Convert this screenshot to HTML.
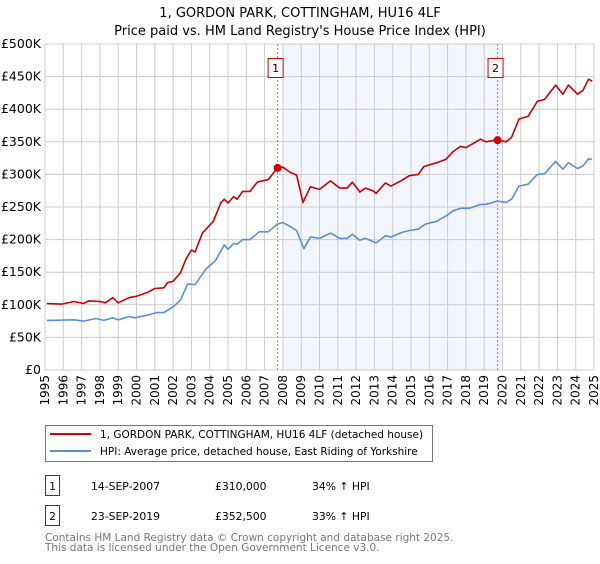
<!DOCTYPE html>
<html><head><meta charset="utf-8"><style>
body{margin:0;background:#fff;font-family:"DejaVu Sans","Liberation Sans",sans-serif;}
svg text{font-family:"DejaVu Sans","Liberation Sans",sans-serif;}
</style></head><body>
<svg id="chart" width="600" height="560" xmlns="http://www.w3.org/2000/svg">
<text x="300" y="17" text-anchor="middle" font-size="13">1, GORDON PARK, COTTINGHAM, HU16 4LF</text>
<text x="300" y="35" text-anchor="middle" font-size="13">Price paid vs. HM Land Registry's House Price Index (HPI)</text>
<g id="plot"></g>
<g>
<rect x="45.5" y="425.5" width="387" height="36" fill="#fff" stroke="#777"/>
<line x1="50" y1="434" x2="91" y2="434" stroke="#cc0000" stroke-width="2"/>
<text x="100" y="438" font-size="10.5">1, GORDON PARK, COTTINGHAM, HU16 4LF (detached house)</text>
<line x1="50" y1="451" x2="91" y2="451" stroke="#5b8fd4" stroke-width="2"/>
<text x="100" y="455" font-size="10.5">HPI: Average price, detached house, East Riding of Yorkshire</text>
</g>
<g font-size="10.8">
<rect x="45.5" y="475.5" width="14" height="20" fill="#fff" stroke="#cc0000"/>
<text x="52.5" y="490" text-anchor="middle">1</text>
<text x="91" y="490">14-SEP-2007</text><text x="215" y="490">£310,000</text><text x="312" y="490">34% ↑ HPI</text>
<rect x="45.5" y="505.5" width="14" height="20" fill="#fff" stroke="#cc0000"/>
<text x="52.5" y="520" text-anchor="middle">2</text>
<text x="91" y="520">23-SEP-2019</text><text x="215" y="520">£352,500</text><text x="312" y="520">33% ↑ HPI</text>
</g>
<g font-size="10.5" fill="#777">
<text x="45" y="541">Contains HM Land Registry data © Crown copyright and database right 2025.</text>
<text x="45" y="551">This data is licensed under the Open Government Licence v3.0.</text>
</g>
</svg>
<script>
const redYears=[1995.1,1995.9,1996.6,1997.1,1997.4,1998.0,1998.3,1998.7,1999.0,1999.6,2000.0,2000.6,2001.0,2001.5,2001.7,2002.0,2002.4,2002.7,2003.0,2003.2,2003.6,2004.2,2004.6,2004.8,2005.0,2005.3,2005.5,2005.8,2006.2,2006.6,2007.0,2007.2,2007.7,2008.0,2008.4,2008.75,2009.1,2009.5,2010.0,2010.6,2011.1,2011.5,2011.8,2012.2,2012.5,2012.9,2013.1,2013.6,2013.9,2014.5,2014.9,2015.4,2015.7,2016.4,2016.9,2017.3,2017.7,2018.0,2018.8,2019.1,2019.7,2020.2,2020.5,2020.9,2021.4,2021.9,2022.3,2022.9,2023.3,2023.6,2024.1,2024.4,2024.7,2024.9];
const redValues=[102,101,105,102,106,105,103,111,103,111,113,119,125,126,134,136,149,170,184,181,210,228,256,262,256,266,262,274,274,288,291,292,310,311,303,299,257,281,277,290,279,279,288,273,279,275,271,287,282,291,298,300,312,318,323,335,343,341,354,350,353,350,357,385,389,412,415,437,423,437,423,429,446,443];
const blueYears=[1995.1,1996.6,1997.1,1997.8,1998.2,1998.7,1999.0,1999.6,1999.9,2000.6,2001.1,2001.5,2002.0,2002.4,2002.8,2003.2,2003.8,2004.3,2004.6,2004.8,2005.0,2005.3,2005.5,2005.8,2006.2,2006.7,2007.0,2007.2,2007.7,2008.0,2008.4,2008.75,2009.15,2009.5,2010.0,2010.6,2011.1,2011.5,2011.8,2012.2,2012.5,2013.1,2013.6,2013.9,2014.5,2014.9,2015.4,2015.8,2016.4,2016.9,2017.3,2017.7,2018.2,2018.8,2019.1,2019.7,2020.2,2020.5,2020.9,2021.4,2021.9,2022.3,2022.9,2023.3,2023.6,2024.1,2024.4,2024.7,2024.9];
const blueValues=[76,77,75,79,76,80,77,82,80,84,88,88,97,107,132,131,155,167,182,192,185,194,193,200,200,212,212,212,224,226,220,214,186,204,202,210,202,202,208,199,202,195,206,204,211,214,216,224,228,236,244,248,248,254,254,259,257,262,282,285,300,301,320,308,318,309,313,324,323];
const sales=[{label:'1',year:2007.71,value:310},{label:'2',year:2019.73,value:352.5}];
const yTicks=[0,50,100,150,200,250,300,350,400,450,500];
const yTickLabels=['£0','£50K','£100K','£150K','£200K','£250K','£300K','£350K','£400K','£450K','£500K'];
const xTicks=[1995,1996,1997,1998,1999,2000,2001,2002,2003,2004,2005,2006,2007,2008,2009,2010,2011,2012,2013,2014,2015,2016,2017,2018,2019,2020,2021,2022,2023,2024,2025];

const L=45,R=594,T=44,B=370;
const xs=y=>L+(y-1995)/30*(R-L);
const ys=v=>B-v/500*(B-T);
const NS='http://www.w3.org/2000/svg';
const plot=document.getElementById('plot');
function mk(tag,attrs,parent){const e=document.createElementNS(NS,tag);for(const k in attrs)e.setAttribute(k,attrs[k]);(parent||plot).appendChild(e);return e;}
const shade=mk('rect',{x:xs(sales[0].year)+5,y:T,width:xs(sales[1].year)-xs(sales[0].year),height:B-T,fill:'#f3f6fd'});


yTicks.forEach((v,i)=>{
 const g=mk('line',{x1:L,x2:R,y1:ys(v),y2:ys(v),stroke:'#cccccc'});
 
 
 const t=mk('text',{x:L-4,y:ys(v)+4,'text-anchor':'end','font-size':'12.5'});
 t.textContent=yTickLabels[i];
 
 
});
xTicks.forEach(y=>{
 const g=mk('line',{x1:xs(y),x2:xs(y),y1:T,y2:B,stroke:'#cccccc'});
 
 
 const t=mk('text',{x:0,y:0,'text-anchor':'end','font-size':'12',transform:`translate(${xs(y)+4},${B+5}) rotate(-90)`});
 t.textContent=y;
 
 
});
sales.forEach(s=>{
 const d=mk('line',{x1:xs(s.year),x2:xs(s.year),y1:T,y2:B,stroke:'#ee6666','stroke-dasharray':'2,2'});
 
 
});
function line(xa,va,color,name){
 const p=mk('polyline',{points:xa.map((y,i)=>xs(y).toFixed(1)+','+ys(va[i]).toFixed(1)).join(' '),fill:'none',stroke:color,'stroke-width':'1.6','stroke-linejoin':'round'});
 
 
}
line(blueYears,blueValues,'#5b8fd4','hpi-line');
line(redYears,redValues,'#cc0000','price-paid-line');
sales.forEach(s=>{
 const c=mk('circle',{cx:xs(s.year),cy:ys(s.value),r:4,fill:'#cc0000'});
 
 
 const b=mk('rect',{x:xs(s.year)-9.5,y:58.5,width:15,height:19,fill:'#fff',stroke:'#cc0000'});
 
 
 const t=mk('text',{x:xs(s.year)-2,y:72,'text-anchor':'middle','font-size':'11'});
 t.textContent=s.label;
 
 
});
</script>
</body></html>
